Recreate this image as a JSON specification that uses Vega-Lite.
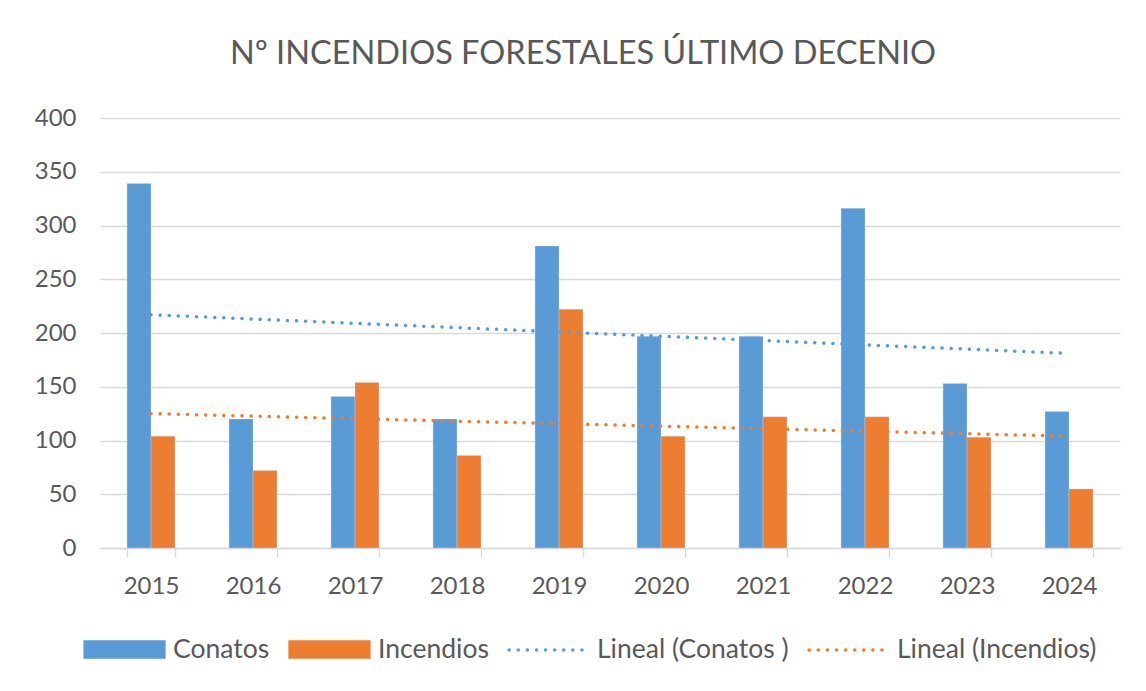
{
  "$schema": "https://vega.github.io/schema/vega-lite/v6.json",
  "autosize": {"type": "none"},
  "padding": {"left": 100, "top": 118, "right": 26, "bottom": 143},
  "width": 1020,
  "height": 430,
  "background": "white",
  "title": {
    "text": "Nº INCENDIOS FORESTALES ÚLTIMO DECENIO",
    "font": "Lato",
    "fontSize": 32.5,
    "fontWeight": "normal",
    "color": "#595959",
    "anchor": "middle",
    "offset": 36,
    "dx": -27
  },
  "config": {
    "view": {"stroke": null},
    "font": "Lato"
  },
  "datasets": {
    "bars": [
      {"year": "2015", "serie": "Conatos", "value": 339},
      {"year": "2015", "serie": "Incendios", "value": 104},
      {"year": "2016", "serie": "Conatos", "value": 120},
      {"year": "2016", "serie": "Incendios", "value": 72},
      {"year": "2017", "serie": "Conatos", "value": 141},
      {"year": "2017", "serie": "Incendios", "value": 154},
      {"year": "2018", "serie": "Conatos", "value": 120},
      {"year": "2018", "serie": "Incendios", "value": 86},
      {"year": "2019", "serie": "Conatos", "value": 281},
      {"year": "2019", "serie": "Incendios", "value": 222},
      {"year": "2020", "serie": "Conatos", "value": 197},
      {"year": "2020", "serie": "Incendios", "value": 104},
      {"year": "2021", "serie": "Conatos", "value": 197},
      {"year": "2021", "serie": "Incendios", "value": 122},
      {"year": "2022", "serie": "Conatos", "value": 316},
      {"year": "2022", "serie": "Incendios", "value": 122},
      {"year": "2023", "serie": "Conatos", "value": 153},
      {"year": "2023", "serie": "Incendios", "value": 103},
      {"year": "2024", "serie": "Conatos", "value": 127},
      {"year": "2024", "serie": "Incendios", "value": 55}
    ],
    "trend": [
      {"year": "2015", "serie": "Lineal (Conatos )", "value": 217},
      {"year": "2024", "serie": "Lineal (Conatos )", "value": 181},
      {"year": "2015", "serie": "Lineal (Incendios)", "value": 125},
      {"year": "2024", "serie": "Lineal (Incendios)", "value": 104}
    ]
  },
  "encoding": {
    "x": {
      "field": "year",
      "type": "nominal",
      "scale": {"paddingInner": 0.53, "paddingOuter": 0.265},
      "axis": {
        "title": null,
        "labelAngle": 0,
        "labelFont": "Lato",
        "labelFontSize": 24,
        "labelColor": "#595959",
        "labelPadding": 17,
        "domainColor": "#D9D9D9",
        "domainWidth": 1.5,
        "tickColor": "#D9D9D9",
        "tickWidth": 1.5,
        "tickSize": 9,
        "tickBand": "extent",
        "grid": false
      }
    },
    "y": {
      "field": "value",
      "type": "quantitative",
      "scale": {"domain": [0, 400]},
      "axis": {
        "title": null,
        "values": [0, 50, 100, 150, 200, 250, 300, 350, 400],
        "labelFont": "Lato",
        "labelFontSize": 24,
        "labelColor": "#595959",
        "labelPadding": 24,
        "domain": false,
        "ticks": false,
        "gridColor": "#D9D9D9",
        "gridWidth": 1.5
      }
    },
    "color": {
      "field": "serie",
      "type": "nominal",
      "scale": {
        "domain": ["Conatos", "Incendios", "Lineal (Conatos )", "Lineal (Incendios)"],
        "range": ["#5B9BD5", "#ED7D31", "#5B9BD5", "#ED7D31"]
      },
      "legend": {
        "title": null,
        "orient": "none",
        "direction": "horizontal",
        "legendX": -17,
        "legendY": 490,
        "labelFont": "Lato",
        "labelFontSize": 26.5,
        "labelColor": "#595959",
        "labelOffset": 7,
        "labelLimit": 0,
        "columnPadding": 13,
        "symbolSize": 6400,
        "encode": {
          "symbols": {
            "update": {
              "shape": {"signal": "indexof(datum.value, 'Lineal') == 0 ? 'stroke' : 'M-1,-0.19H1V0.19H-1Z'"},
              "size": {"value": 6200},
              "fill": {"signal": "datum.value == 'Conatos' ? '#5B9BD5' : datum.value == 'Incendios' ? '#ED7D31' : 'transparent'"},
              "stroke": {"signal": "datum.value == 'Lineal (Conatos )' ? '#5B9BD5' : datum.value == 'Lineal (Incendios)' ? '#ED7D31' : 'transparent'"},
              "strokeWidth": {"value": 3.5},
              "strokeDash": {"signal": "indexof(datum.value, 'Lineal') == 0 ? [0.1, 9] : [1, 0]"},
              "strokeCap": {"value": "round"},
              "opacity": {"value": 1}
            }
          }
        }
      }
    }
  },
  "layer": [
    {
      "data": {"name": "bars"},
      "mark": {"type": "bar", "stroke": "#C9DDF0", "strokeWidth": 0.6, "strokeOpacity": 0.6},
      "encoding": {
        "xOffset": {"field": "serie", "type": "nominal", "sort": ["Conatos", "Incendios"]}
      }
    },
    {
      "data": {"name": "trend"},
      "mark": {"type": "line", "strokeWidth": 3.5, "strokeDash": [0.1, 9], "strokeCap": "round"},
      "encoding": {}
    }
  ]
}
